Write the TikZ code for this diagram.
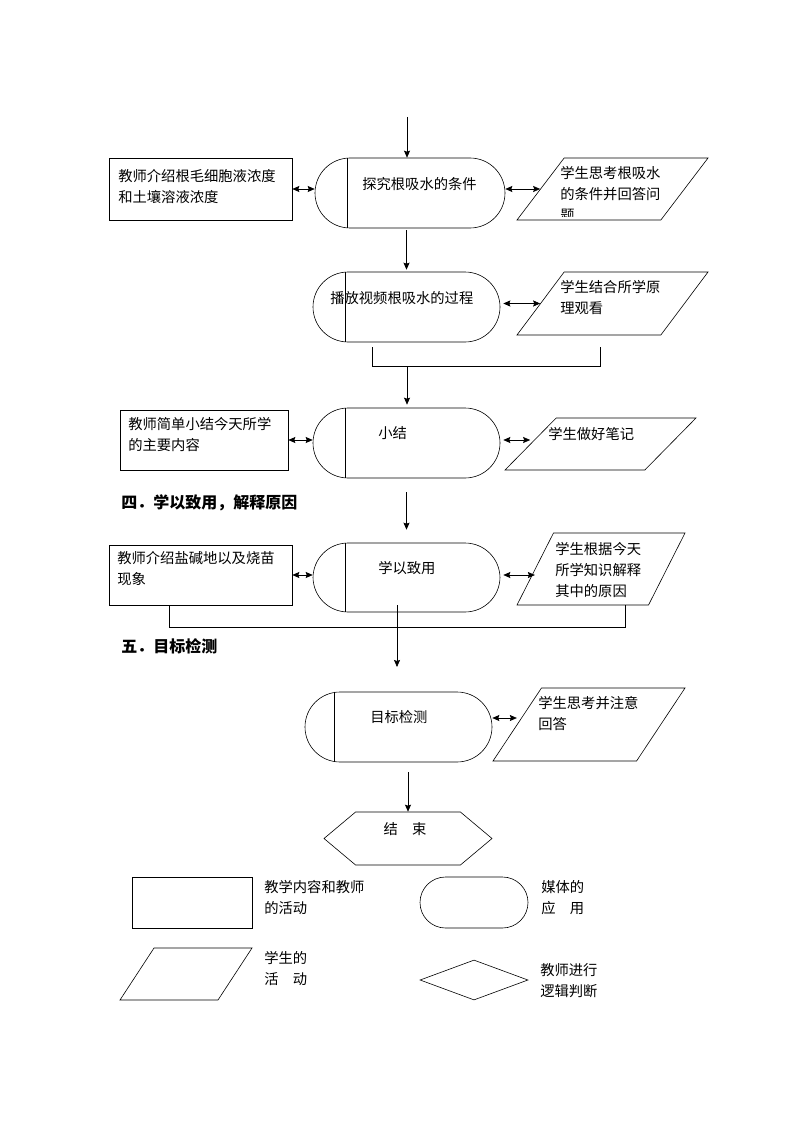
\documentclass[tikz,border=0pt]{standalone}
\usepackage{fontspec}
\setmainfont{Noto Sans CJK SC}
\usetikzlibrary{arrows.meta,shapes.geometric,shapes.symbols,calc}
\tikzset{
  box/.style={draw,rectangle,inner sep=0pt},
  media/.style={draw,rectangle,rounded corners=35pt,inner sep=0pt,minimum height=70pt},
  student/.style={draw,trapezium,trapezium stretches=true,inner sep=1pt,trapezium left angle=#1,trapezium right angle={180-#1}},
  txt/.style={anchor=north west,inner sep=0pt,align=left,font=\fontsize{14.3}{21}\selectfont},
  heading/.style={txt,font=\fontsize{16}{21}\selectfont\bfseries},
  flow/.style={-{Stealth[length=7pt,width=6pt,inset=1pt]},line width=.7pt},
  both/.style={{Stealth[length=7pt,width=6pt,inset=1pt]}-{Stealth[length=7pt,width=6pt,inset=1pt]},line width=.7pt}
}

\begin{document}
\begin{tikzpicture}[x=1pt,y=-1pt,line width=.6pt]
\useasboundingbox (0,0) rectangle (794,1123);

\node[box,minimum width=183pt,minimum height=62pt] (r1) at (200.5,189) {};
\node[media,minimum width=190pt] (t1) at (410,193) {};
\node[student=64,minimum width=191pt,minimum height=62pt] (p1) at (612.5,189) {};
\node[media,minimum width=187pt] (t2) at (406.5,307) {};
\node[student=64,minimum width=191pt,minimum height=63pt] (p2) at (612.5,303.5) {};
\node[box,minimum width=168pt,minimum height=60pt] (r3) at (204,440) {};
\node[media,minimum width=187pt] (t3) at (406.5,443) {};
\node[student=60,minimum width=191pt,minimum height=52pt] (p3) at (600.5,444) {};
\node[box,minimum width=183pt,minimum height=60pt] (r4) at (200.5,575) {};
\node[media,minimum width=187pt,minimum height=69pt] (t4) at (406.5,577.5) {};
\node[student=69,minimum width=168pt,minimum height=72pt] (p4) at (601,569) {};
\node[media,minimum width=187pt] (t5) at (398.5,727) {};
\node[student=63,minimum width=192pt,minimum height=73pt] (p5) at (589,724.5) {};
\node[draw,signal,signal to=east and west,signal pointer angle=80,inner sep=0pt,minimum width=168pt,minimum height=53pt] (end) at (408,838.5) {};

\foreach \t in {t1,t2,t3,t4}
  \draw ([xshift=33pt]\t.north west) -- ([xshift=33pt]\t.south west);
\draw ([xshift=30pt]t5.north west) -- ([xshift=30pt]t5.south west);

\node[txt] (r1t) at (118,169) {教师介绍根毛细胞液浓度\\和土壤溶液浓度};
\node[txt] (t1t) at (362,177) {探究根吸水的条件};
\begin{scope}
\clip (500,150) rectangle (720,217);
\node[txt] (p1t) at (560,166) {学生思考根吸水\\的条件并回答问\\题};
\end{scope}
\node[txt] (t2t) at (330,291) {播放视频根吸水的过程};
\node[txt] (p2t) at (560,280) {学生结合所学原\\理观看};
\node[txt] (r3t) at (128,417) {教师简单小结今天所学\\的主要内容};
\node[txt] (t3t) at (378,426) {小结};
\node[txt] (p3t) at (548,427) {学生做好笔记};
\node[heading] (h4) at (121,494) {四．学以致用，解释原因};
\node[txt] (r4t) at (117,551) {教师介绍盐碱地以及烧苗\\现象};
\node[txt] (t4t) at (378,561) {学以致用};
\node[txt] (p4t) at (555,542) {学生根据今天\\所学知识解释\\其中的原因};
\node[heading] (h5) at (121,638) {五．目标检测};
\node[txt] (t5t) at (370,710) {目标检测};
\node[txt] (p5t) at (538,696) {学生思考并注意\\回答};
\node[txt,anchor=center] (endt) at (405,829) {结　束};

\coordinate (start) at (407,117);
\draw[flow] (start) -- (start |- t1.north);
\draw[both] (r1.east) -- (r1.east -| t1.west);
\draw[both] (t1.east |- p1.west) -- (p1.west);
\draw[flow,shorten <=2pt,shorten >=2pt] (t2.north |- t1.south) -- (t2.north);
\draw[both] ([xshift=3pt]t2.east |- p2.west) -- (p2.west);
\coordinate (b1l) at (372,347);
\coordinate (b1r) at (600,347);
\draw (b1l) -- ++(0,19) -| (b1r);
\coordinate (j1) at (407,366);
\draw[flow,shorten >=3pt] (j1) -- (j1 |- t3.north);
\draw[both] (r3.east) -- (r3.east -| t3.west);
\draw[both] ([xshift=3pt]t3.east |- r3.east) -- (r3.east -| p3.west);
\draw[flow,shorten <=14pt,shorten >=13pt] (t3.south) -- (t4.north);
\draw[both] (r4.east) -- (r4.east -| t4.west);
\draw[both] ([xshift=3pt]t4.east |- r4.east) -- (r4.east -| p4.west);
\draw ([xshift=-31.5pt]r4.south) -- ++(0,22) -| ([xshift=24pt]p4.south);
\coordinate (j2a) at (397,605);
\coordinate (j2b) at (397,667);
\draw[flow] (j2a) -- (j2b);
\draw[both] ([yshift=9pt]t5.east) -- ([yshift=9pt]t5.east -| p5.west);
\draw[flow,shorten <=10pt] (end.north |- t5.south) -- (end.north);

\node[box,minimum width=120pt,minimum height=51pt] (lr) at (192,902.5) {};
\node[draw,rectangle,rounded corners=25.5pt,inner sep=0pt,minimum width=108pt,minimum height=51pt] (lt) at (474,902.5) {};
\node[student=62,minimum width=132pt,minimum height=52pt] (lp) at (186,974) {};
\node[draw,diamond,inner sep=0pt,minimum width=108pt,minimum height=40pt] (ld) at (474,980) {};
\node[txt] (lrt) at (264,880) {教学内容和教师\\的活动};
\node[txt] (ltt) at (541,880) {媒体的\\应　用};
\node[txt] (lpt) at (264,951) {学生的\\活　动};
\node[txt] (ldt) at (540,963) {教师进行\\逻辑判断};
\end{tikzpicture}
\end{document}
